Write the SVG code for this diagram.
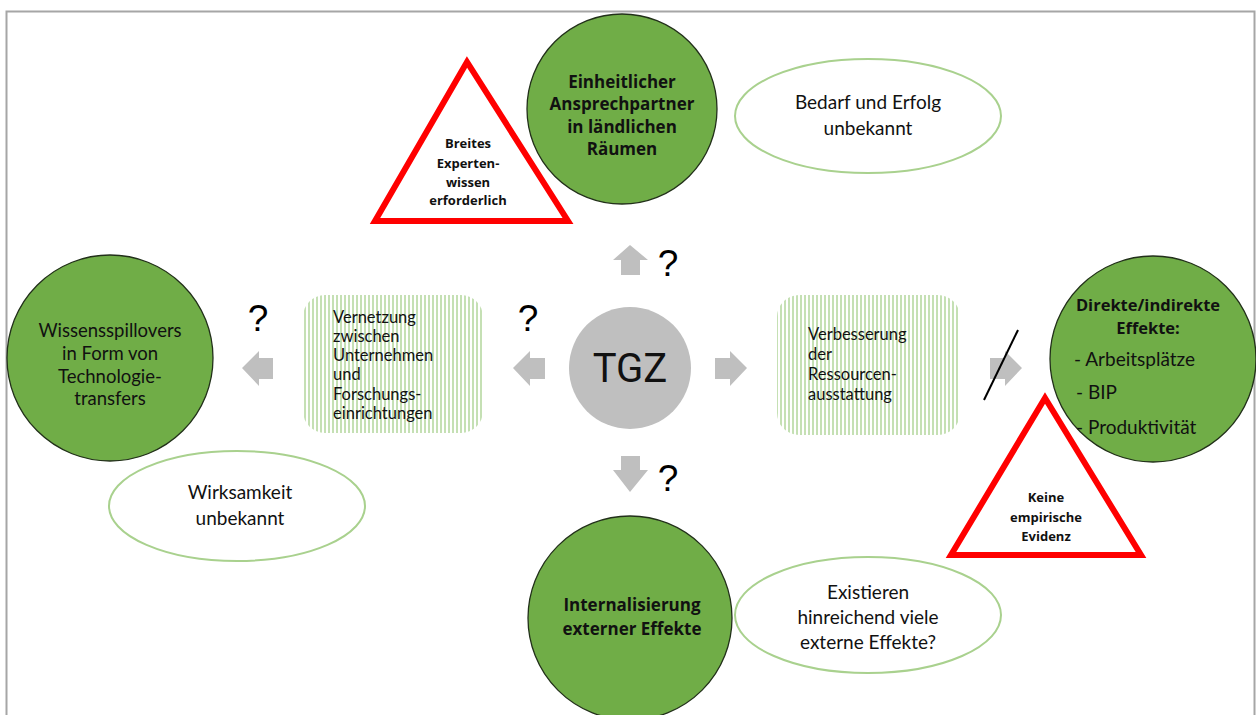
<svg xmlns="http://www.w3.org/2000/svg" width="1256" height="715" viewBox="0 0 1256 715">
<style>
.gc{fill:#70ad47;stroke:#22301a;stroke-width:1.3}
.el{fill:#fff;stroke:#a9d18e;stroke-width:2}
.tri{fill:#fff;stroke:#ff0000;stroke-width:6;stroke-linejoin:miter}
.arr{fill:#bfbfbf}
.t{font-family:Lato,"Open Sans","Liberation Sans",sans-serif;fill:#111;text-anchor:middle}
.b{font-family:"Open Sans",Lato,"Liberation Sans",sans-serif;font-weight:bold}
.l{text-anchor:start}
.q{font-family:"Liberation Sans",Arial,sans-serif;font-size:37px;fill:#000;text-anchor:middle}
</style>
<defs>
<pattern id="stripes" width="4" height="4" patternUnits="userSpaceOnUse">
<rect x="0" y="0" width="2" height="4" fill="#c5e0b4"/>
</pattern>
</defs>
<rect x="6.5" y="11.5" width="1248" height="720" fill="#fff" stroke="#a6a6a6" stroke-width="2"/>

<g id="connectors">
<path class="arr" d="M630,245 L648,260 L640,260 L640,275 L621,275 L621,260 L613,260 Z"/>
<path class="arr" d="M630,492 L648,470 L640,470 L640,456 L621,456 L621,470 L613,470 Z"/>
<path class="arr" d="M513,368 L530,351 L530,358 L545,358 L545,379 L530,379 L530,386 Z"/>
<path class="arr" d="M747,368 L730,351 L730,358 L715,358 L715,379 L730,379 L730,386 Z"/>
<path class="arr" d="M242,368 L259,351 L259,358 L273,358 L273,379 L259,379 L259,386 Z"/>
<path class="arr" d="M1022,368 L1005,351 L1005,358 L990,358 L990,379 L1005,379 L1005,386 Z"/>
<line x1="984" y1="400" x2="1018" y2="330" stroke="#000" stroke-width="2"/>
<text class="q" x="668" y="276">?</text>
<text class="q" x="668" y="491">?</text>
<text class="q" x="528" y="331">?</text>
<text class="q" x="258" y="331">?</text>
</g>

<g id="tgz">
<circle cx="630" cy="368" r="61" fill="#bfbfbf"/>
<text class="t" x="630" y="382" style="font-size:40px;font-family:Roboto,'Liberation Sans',sans-serif">TGZ</text>
</g>

<g id="top-node">
<circle class="gc" cx="622" cy="109" r="95"/>
<text class="t b" font-size="17"><tspan x="622" y="88">Einheitlicher</tspan><tspan x="622" y="110">Ansprechpartner</tspan><tspan x="622" y="133">in ländlichen</tspan><tspan x="622" y="155">Räumen</tspan></text>
</g>

<g id="top-ellipse">
<ellipse class="el" cx="868" cy="116" rx="133" ry="57"/>
<text class="t" font-size="19"><tspan x="868" y="109">Bedarf und Erfolg</tspan><tspan x="868" y="135">unbekannt</tspan></text>
</g>

<g id="top-triangle">
<polygon class="tri" points="467,62 375,221 568,221"/>
<text class="t b" font-size="13"><tspan x="468" y="148">Breites</tspan><tspan x="468" y="168">Experten-</tspan><tspan x="468" y="187">wissen</tspan><tspan x="468" y="205">erforderlich</tspan></text>
</g>

<g id="left-box">
<rect x="303" y="295" width="180" height="138" rx="22" fill="url(#stripes)"/>
<text class="t l" font-size="16.5"><tspan x="333" y="323">Vernetzung</tspan><tspan x="333" y="342">zwischen</tspan><tspan x="333" y="361">Unternehmen</tspan><tspan x="333" y="380">und</tspan><tspan x="333" y="400">Forschungs-</tspan><tspan x="333" y="419">einrichtungen</tspan></text>
</g>

<g id="right-box">
<rect x="777" y="295" width="183" height="140" rx="22" fill="url(#stripes)"/>
<text class="t l" font-size="16.5"><tspan x="808" y="340">Verbesserung</tspan><tspan x="808" y="360">der</tspan><tspan x="808" y="380">Ressourcen-</tspan><tspan x="808" y="400">ausstattung</tspan></text>
</g>

<g id="left-node">
<circle class="gc" cx="110" cy="358" r="103"/>
<text class="t" font-size="18.5"><tspan x="110" y="337">Wissensspillovers</tspan><tspan x="110" y="360">in Form von</tspan><tspan x="110" y="383">Technologie-</tspan><tspan x="110" y="405">transfers</tspan></text>
</g>

<g id="left-ellipse">
<ellipse class="el" cx="237" cy="506" rx="128" ry="55"/>
<text class="t" font-size="19"><tspan x="240" y="499">Wirksamkeit</tspan><tspan x="240" y="525">unbekannt</tspan></text>
</g>

<g id="right-node">
<circle class="gc" cx="1153" cy="359" r="103"/>
<text class="t b" font-size="16.5"><tspan x="1148" y="311">Direkte/indirekte</tspan><tspan x="1148" y="334">Effekte:</tspan></text>
<text class="t l" font-size="19"><tspan x="1074" y="366">- Arbeitsplätze</tspan><tspan x="1076" y="399">-  BIP</tspan><tspan x="1076" y="434">-  Produktivität</tspan></text>
</g>

<g id="right-triangle">
<polygon class="tri" points="1045,398 951,555 1141,555"/>
<text class="t b" font-size="13"><tspan x="1046" y="502">Keine</tspan><tspan x="1046" y="522">empirische</tspan><tspan x="1046" y="541">Evidenz</tspan></text>
</g>

<g id="bottom-node">
<circle class="gc" cx="630" cy="618" r="102"/>
<text class="t b" font-size="17"><tspan x="632" y="611">Internalisierung</tspan><tspan x="632" y="635">externer Effekte</tspan></text>
</g>

<g id="bottom-ellipse">
<ellipse class="el" cx="868" cy="615" rx="133" ry="58"/>
<text class="t" font-size="19"><tspan x="868" y="599">Existieren</tspan><tspan x="868" y="624">hinreichend viele</tspan><tspan x="868" y="649">externe Effekte?</tspan></text>
</g>
</svg>
